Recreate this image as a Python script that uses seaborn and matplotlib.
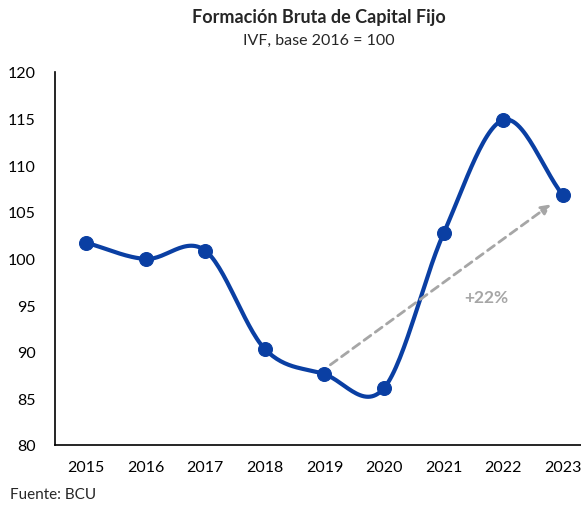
import numpy as np
import pandas as pd
import matplotlib
matplotlib.use("Agg")
import matplotlib.pyplot as plt
import seaborn as sns

years = ["2015", "2016", "2017", "2018", "2019", "2020", "2021", "2022", "2023"]
ivf = [101.7, 99.95, 100.85, 90.3, 87.6, 86.1, 102.7, 114.85, 106.8]
yticks = [80, 85, 90, 95, 100, 105, 110, 115, 120]
title = "Formación Bruta de Capital Fijo"
subtitle = "IVF, base 2016 = 100"
source = "Fuente: BCU"
growth_label = "+22%"

sns.set_theme(style="white")
plt.rcParams['font.family'] = ['Lato', 'DejaVu Sans']

df = pd.DataFrame({"x": np.arange(len(years)), "y": ivf})

# Catmull-Rom smoothing (Excel-style smoothed line) of the data points
def catmull_rom(xs, ys, n=30):
    px = np.concatenate([[2*xs[0]-xs[1]], xs, [2*xs[-1]-xs[-2]]])
    py = np.concatenate([[2*ys[0]-ys[1]], ys, [2*ys[-1]-ys[-2]]])
    outx, outy = [], []
    for i in range(1, len(px)-2):
        t = np.linspace(0, 1, n, endpoint=(i == len(px)-3))
        for P, out in ((px, outx), (py, outy)):
            p0, p1, p2, p3 = P[i-1], P[i], P[i+1], P[i+2]
            out.extend(0.5*((2*p1) + (-p0+p2)*t + (2*p0-5*p1+4*p2-p3)*t**2 + (-p0+3*p1-3*p2+p3)*t**3))
    return np.array(outx), np.array(outy)

sx, sy = catmull_rom(df["x"].values.astype(float), df["y"].values)

W, H = 581, 506
fig = plt.figure(figsize=(W/100, H/100), dpi=100)
ax = fig.add_axes([55/W, (H-446)/H, (W-55)/W, (446-73)/H])

color = "#0A3FA3"
sns.lineplot(x=sx, y=sy, ax=ax, color=color, linewidth=3, sort=False)
sns.scatterplot(data=df, x="x", y="y", ax=ax, color=color, s=100, edgecolor=color, zorder=5)

# dashed growth arrow 2019 -> 2023
ax.annotate("", xy=(7.8, 105.8), xytext=(4.1, 88.6),
            arrowprops=dict(arrowstyle="-|>", color="#A6A6A6", lw=2, linestyle=(0, (3, 2)),
                            mutation_scale=14, shrinkA=0, shrinkB=0))
ax.text(6.72, 95.9, growth_label, color="#A6A6A6", fontsize=12.5, fontweight="bold",
        ha="center", va="center")

ax.set_xlim(-0.52, (W-86)/59.6)
ax.set_ylim(80, 120)
ax.set_yticks(yticks)
ax.set_xticks(range(len(years)))
ax.set_xticklabels(years)
ax.tick_params(axis="both", labelsize=11.5, colors="#000000", length=0)
ax.tick_params(axis="x", pad=11)
ax.tick_params(axis="y", pad=14)
ax.set_xlabel("")
ax.set_ylabel("")
for s in ["top", "right"]:
    ax.spines[s].set_visible(False)
for s in ["left", "bottom"]:
    ax.spines[s].set_color("black")
    ax.spines[s].set_linewidth(1.2)

fig.text(319/W, 1-17/H, title, ha="center", va="center", fontsize=13, fontweight="bold")
fig.text(319/W, 1-41/H, subtitle, ha="center", va="center", fontsize=11.5)
fig.text(10/W, 1-495/H, source, ha="left", va="center", fontsize=11)

fig.savefig("out.png", dpi=100)
